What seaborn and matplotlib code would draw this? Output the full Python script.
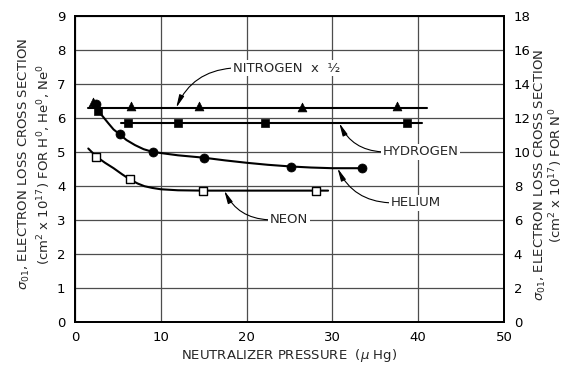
import matplotlib
matplotlib.use("Agg")
import matplotlib.pyplot as plt
import seaborn as sns
import pandas as pd

# Measured points (pressure in microns Hg, cross section in 1e-17 cm^2)
nitrogen_p = [2.1, 6.5, 14.5, 26.5, 37.5]
nitrogen_s = [12.95, 12.7, 12.7, 12.65, 12.7]          # right-hand scale
hydrogen_p = [2.7, 6.2, 12.0, 22.2, 38.7]
hydrogen_s = [6.2, 5.86, 5.86, 5.86, 5.86]
helium_p = [2.4, 5.2, 9.05, 15.0, 25.2, 33.5]
helium_s = [6.4, 5.52, 5.0, 4.83, 4.57, 4.52]
neon_p = [2.5, 6.4, 14.9, 28.1]
neon_s = [4.86, 4.19, 3.86, 3.86]

# Hand-drawn fit lines
nitrogen_fit_p = [1.5, 41.0]
nitrogen_fit_s = [12.6, 12.6]
hydrogen_fit_p = [5.4, 40.4]
hydrogen_fit_s = [5.85, 5.85]
helium_fit_p = [2.3, 2.9, 3.9, 4.5, 5.2, 6.0, 7.0, 8.0, 9.05, 10.5, 12.0,
                15.0, 17.5, 20.0, 22.5, 25.2, 27.5, 30.0, 33.5]
helium_fit_s = [6.45, 6.15, 5.84, 5.66, 5.52, 5.35, 5.2, 5.08, 5.0, 4.95, 4.9,
                4.83, 4.75, 4.68, 4.62, 4.57, 4.54, 4.52, 4.52]
neon_fit_p = [1.55, 2.5, 3.5, 4.5, 5.5, 6.4, 7.3, 8.1, 9.0, 10.0, 12.0, 14.9, 29.5]
neon_fit_s = [5.1, 4.86, 4.68, 4.52, 4.34, 4.19, 4.07, 3.99, 3.94, 3.9, 3.87, 3.86, 3.86]

x_ticks = [0, 10, 20, 30, 40, 50]
left_ticks = list(range(0, 10))
right_ticks = list(range(0, 19, 2))

sns.set_theme(style="white")
plt.rcParams["font.family"] = ["DejaVu Sans"]
plt.rcParams["mathtext.fontset"] = "dejavusans"
FS = 9.5

fig = plt.figure(figsize=(5.68, 3.65), dpi=100)
ax = fig.add_axes([0.132, 0.1186, 0.7553, 0.8374])
ax2 = ax.twinx()

ax.set_xlim(0, 50)
ax.set_ylim(0, 9)
ax2.set_ylim(0, 18)
ax.set_xticks(x_ticks)
ax.set_yticks(left_ticks)
ax2.set_yticks(right_ticks)
ax.grid(True, color="0.3", lw=0.9)
ax.set_axisbelow(True)
for a in (ax, ax2):
    a.tick_params(length=0, labelsize=FS, colors="black", pad=7)
    for sp in a.spines.values():
        sp.set_color("black")
        sp.set_linewidth(1.3)
ax2.grid(False)

line_kw = dict(color="black", lw=1.5, sort=False, estimator=None, legend=False)

def df(p, s):
    return pd.DataFrame({"p": p, "s": s})

sns.lineplot(data=df(nitrogen_fit_p, nitrogen_fit_s), x="p", y="s", ax=ax2, **line_kw)
sns.lineplot(data=df(hydrogen_fit_p, hydrogen_fit_s), x="p", y="s", ax=ax, **line_kw)
sns.lineplot(data=df(helium_fit_p, helium_fit_s), x="p", y="s", ax=ax, **line_kw)
sns.lineplot(data=df(neon_fit_p, neon_fit_s), x="p", y="s", ax=ax, **line_kw)

sns.scatterplot(data=df(hydrogen_p, hydrogen_s), x="p", y="s", ax=ax, marker="s",
                s=36, color="black", edgecolor="black", zorder=5, legend=False)
sns.scatterplot(data=df(helium_p, helium_s), x="p", y="s", ax=ax, marker="o",
                s=42, color="black", edgecolor="black", zorder=5, legend=False)
sns.scatterplot(data=df(neon_p, neon_s), x="p", y="s", ax=ax, marker="s",
                s=40, color="white", edgecolor="black", linewidth=1.0, zorder=5, legend=False)
sns.scatterplot(data=df(nitrogen_p, nitrogen_s), x="p", y="s", ax=ax2, marker="^",
                s=40, color="black", edgecolor="black", zorder=5, legend=False)

ax.set_xlabel("NEUTRALIZER PRESSURE  ($\\mu$ Hg)", fontsize=FS, labelpad=2)
ax.set_ylabel("")
ax2.set_ylabel("")

box = dict(boxstyle="square,pad=0.12", fc="white", ec="none")

def label(text, xy, xytext, rad):
    ax.annotate(text, xy=xy, xytext=xytext, ha="left", va="center", fontsize=FS,
                bbox=box, zorder=6,
                arrowprops=dict(arrowstyle="-|>,head_length=0.8,head_width=0.16",
                                color="black", lw=0.8, shrinkA=0, shrinkB=0,
                                relpos=(0, 0.5),
                                connectionstyle=f"arc3,rad={rad}"))

label("NITROGEN  x  ½", (11.8, nitrogen_fit_s[0] / 2), (18.4, 7.47), 0.3)
label("HYDROGEN", (30.8, hydrogen_fit_s[0]), (35.9, 5.0), -0.3)
label("HELIUM", (30.6, 4.52), (36.8, 3.5), -0.3)
label("NEON", (17.4, 3.86), (22.7, 3.0), -0.3)

fig.text(24 / 568, 0.55, "$\\sigma_{01}$, ELECTRON LOSS CROSS SECTION",
         rotation=90, ha="center", va="center", fontsize=FS)
fig.text(44 / 568, 0.55, "(cm$^2$ x 10$^{17}$) FOR H$^0$, He$^0$, Ne$^0$",
         rotation=90, ha="center", va="center", fontsize=FS)
fig.text(540 / 568, 0.52, "$\\sigma_{01}$, ELECTRON LOSS CROSS SECTION",
         rotation=90, ha="center", va="center", fontsize=FS)
fig.text(556 / 568, 0.52, "(cm$^2$ x 10$^{17}$) FOR N$^0$",
         rotation=90, ha="center", va="center", fontsize=FS)

fig.savefig("out.png", dpi=100, facecolor="white")
